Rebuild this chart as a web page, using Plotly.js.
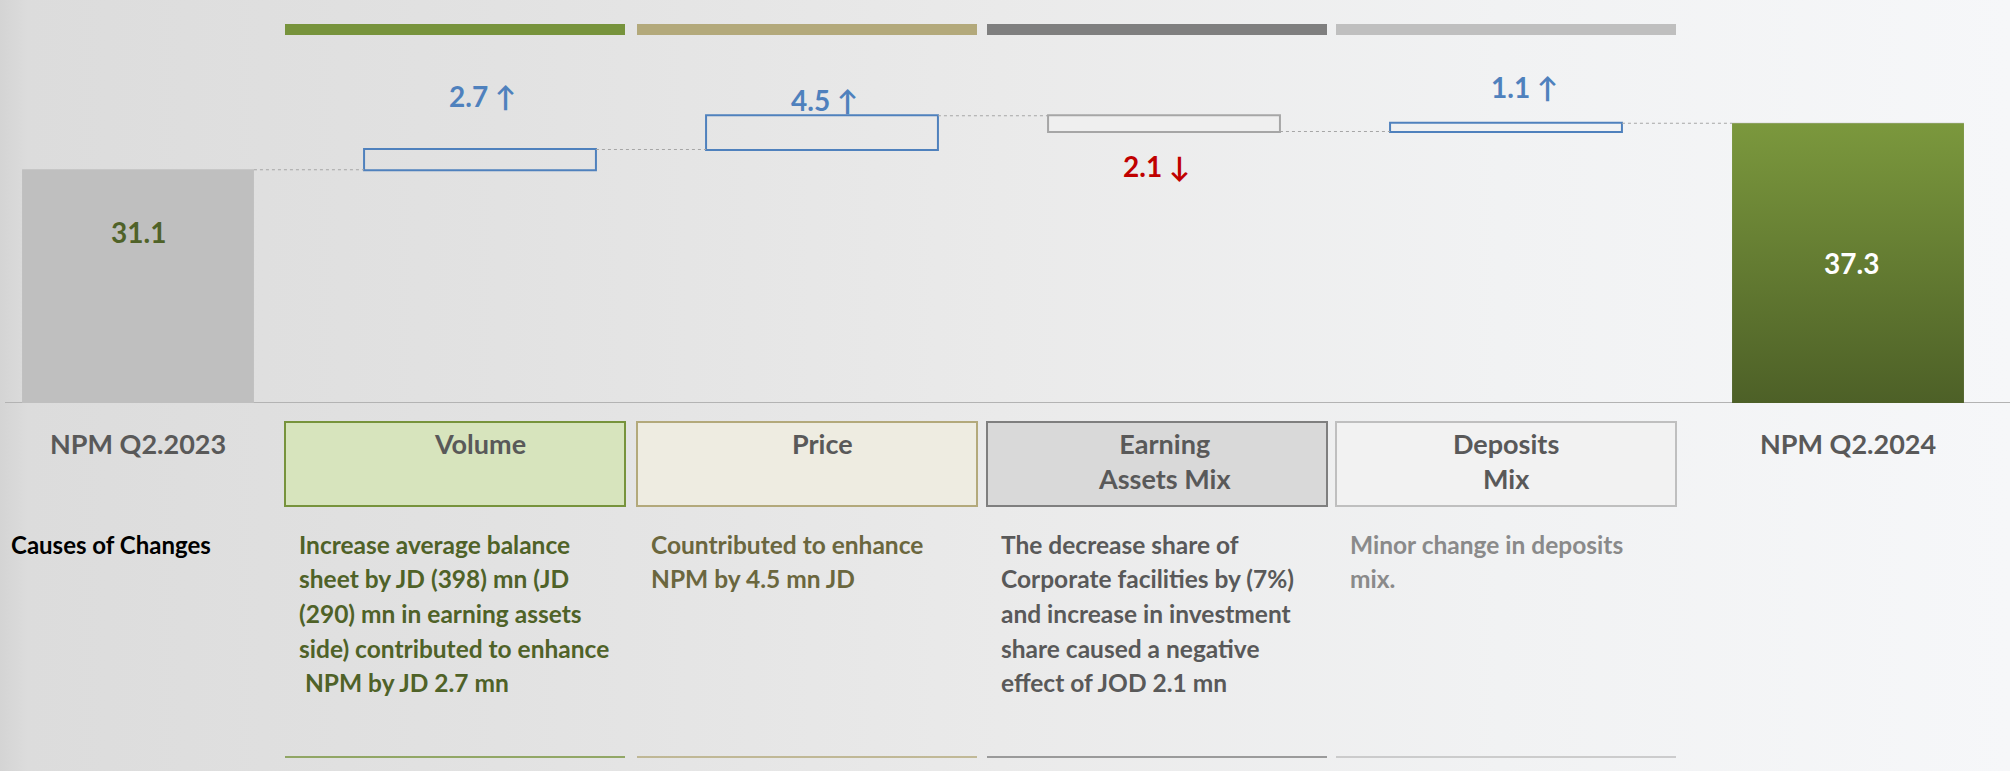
<!DOCTYPE html>
<html>
<head>
<meta charset="utf-8">
<script src="https://cdn.plot.ly/plotly-3.0.1.min.js"></script>
<style>
  html, body { margin: 0; padding: 0; }
  body {
    background: linear-gradient(to right, #d4d4d4 0px, #dcdcdc 28px, #e2e2e2 500px,
      #eaeaea 1000px, #f1f2f3 1500px, #f6f7f9 2010px);
  }
  #npm-plot { width: 2010px; height: 771px; }
</style>
</head>
<body>
<div id="npm-plot"></div>
<script>
// chart data
const categories = ['NPM Q2.2023', 'Volume', 'Price', 'Earning<br>Assets Mix', 'Deposits<br>Mix', 'NPM Q2.2024'];
const measures = ['absolute', 'relative', 'relative', 'relative', 'relative', 'total'];
const values = [31.1, 2.7, 4.5, -2.1, 1.1, 37.3];

const causesTitle = 'Causes of Changes';
const causes = [
  ['Increase average balance', 'sheet by JD (398) mn (JD', '(290) mn in earning assets',
   'side) contributed to enhance', '\u00a0NPM by JD 2.7 mn'],
  ['Countributed to enhance', 'NPM by 4.5 mn JD'],
  ['The decrease share of', 'Corporate facilities by (7%)', 'and increase in investment',
   'share caused a negative', 'effect of JOD 2.1 mn'],
  ['Minor change in deposits', 'mix.']
];

// styling
const driverColors = ['#77933c', '#b3a97b', '#7f7f7f', '#bfbfbf'];
const driverFills = ['#d7e4bd', '#eeece1', '#d9d9d9', '#f2f2f2'];
const causeColors = ['#4f6228', '#6b673e', '#595959', '#8a8a8a'];
const FONT = 'Lato, "Open Sans", sans-serif';

function drawNpmPlot() {
  const W = 2010, H = 771;
  const basePx = 403, pxPerUnit = 7.5;
  const colStart = 138, colStep = 342, barWidth = 0.678;

  const px = v => v / W;
  const py = v => 1 - v / H;

  let waterfall = {
    type: 'waterfall',
    x: categories.map((c, i) => i),
    y: values,
    measure: measures,
    width: barWidth,
    textposition: 'none',
    hoverinfo: 'skip',
    increasing: { marker: { color: 'rgba(0,0,0,0)', line: { color: '#4f81bd', width: 2 } } },
    decreasing: { marker: { color: '#efefef', line: { color: '#a6a6a6', width: 2 } } },
    totals: { marker: { color: '#bfbfbf', line: { width: 0 } } },
    connector: { mode: 'between', line: { color: '#a6a6a6', width: 1, dash: 'dot' } },
  };

  /* final bar gets a vertical green gradient on top of the waterfall bar */
  const last = values.length - 1;
  const finalVal = values[last];
  let finalBar = {
    type: 'scatter',
    mode: 'lines',
    x: [last - barWidth / 2, last + barWidth / 2, last + barWidth / 2, last - barWidth / 2, last - barWidth / 2],
    y: [0, 0, finalVal, finalVal, 0],
    fill: 'toself',
    fillgradient: { type: 'vertical', colorscale: [[0, '#4d6027'], [1, '#7b983d']] },
    line: { width: 0 },
    hoverinfo: 'skip',
  };

  /* running levels for label anchors */
  let level = [];
  let run = 0;
  values.forEach((v, i) => {
    if (measures[i] === 'absolute') run = v;
    else if (measures[i] === 'relative') run += v;
    level.push(run);
  });

  let annotations = [];

  // value labels
  const labelShift = [-62, 54, 16, -34, 36, 0];
  const labelXShift = [0, 2, 2, -8, 18, 3];
  values.forEach((v, i) => {
    let txt, color, y;
    if (measures[i] === 'relative') {
      txt = Math.abs(v).toFixed(1) + (v >= 0 ? ' \u2191' : ' \u2193');
      color = v >= 0 ? '#4f81bd' : '#c00000';
      y = level[i];
    } else if (i === last) {
      txt = v.toFixed(1); color = '#ffffff'; y = v / 2;
    } else {
      txt = v.toFixed(1); color = '#4f6228'; y = level[i];
    }
    annotations.push({
      x: i, y: y, xref: 'x', yref: 'y', yanchor: 'middle', text: '<b>' + txt + '</b>', showarrow: false,
      yshift: labelShift[i], xshift: labelXShift[i],
      font: { family: FONT, size: 28, color: color },
    });
  });

  // category headers
  categories.forEach((c, i) => {
    annotations.push({
      x: i, xref: 'x', y: py(425), yref: 'paper', yanchor: 'top',
      text: '<b>' + c + '</b>', showarrow: false,
      font: { family: FONT, size: 27, color: '#595959' },
    });
  });

  // causes of changes
  annotations.push({
    x: px(9), y: py(544), xref: 'paper', yref: 'paper', xanchor: 'left', yanchor: 'middle',
    text: '<b>' + causesTitle + '</b>', showarrow: false,
    font: { family: FONT, size: 24, color: '#000000' },
  });

  const boxLeft = [285, 637, 987, 1336], boxW = 340;
  causes.forEach((lines, i) => {
    lines.forEach((ln, j) => {
      annotations.push({
        x: px(boxLeft[i] + 12), y: py(544 + 34.7 * j), xref: 'paper', yref: 'paper',
        xanchor: 'left', yanchor: 'middle', text: '<b>' + ln + '</b>', showarrow: false,
        font: { family: FONT, size: 24.5, color: causeColors[i] },
      });
    });
  });

  let shapes = [
    { type: 'line', xref: 'paper', yref: 'y', x0: px(5), x1: 1, y0: 0, y1: 0,
      line: { color: '#b3b3b3', width: 2 }, layer: 'below' },
  ];
  boxLeft.forEach((l, i) => {
    shapes.push({ type: 'rect', xref: 'paper', yref: 'paper', x0: px(l), x1: px(l + boxW),
      y0: py(35), y1: py(24), fillcolor: driverColors[i], line: { width: 0 } });
    shapes.push({ type: 'rect', xref: 'paper', yref: 'paper', x0: px(l), x1: px(l + boxW),
      y0: py(506), y1: py(422), fillcolor: driverFills[i], line: { color: driverColors[i], width: 2 },
      layer: 'below' });
    shapes.push({ type: 'line', xref: 'paper', yref: 'paper', x0: px(l), x1: px(l + boxW),
      y0: py(757), y1: py(757), line: { color: driverColors[i], width: 1.5 } });
  });

  let layout = {
    width: W, height: H,
    margin: { l: 0, r: 0, t: 0, b: 0 },
    paper_bgcolor: 'rgba(0,0,0,0)',
    plot_bgcolor: 'rgba(0,0,0,0)',
    showlegend: false,
    xaxis: { range: [-colStart / colStep, (W - colStart) / colStep], visible: false, fixedrange: true },
    yaxis: { domain: [(H - basePx) / H, 1], range: [0, basePx / pxPerUnit], visible: false, fixedrange: true },
    annotations: annotations,
    shapes: shapes,
  };

  Plotly.newPlot('npm-plot', [waterfall, finalBar], layout, { staticPlot: true, displayModeBar: false });
}

window.addEventListener('DOMContentLoaded', drawNpmPlot, false);
</script>
</body>
</html>
